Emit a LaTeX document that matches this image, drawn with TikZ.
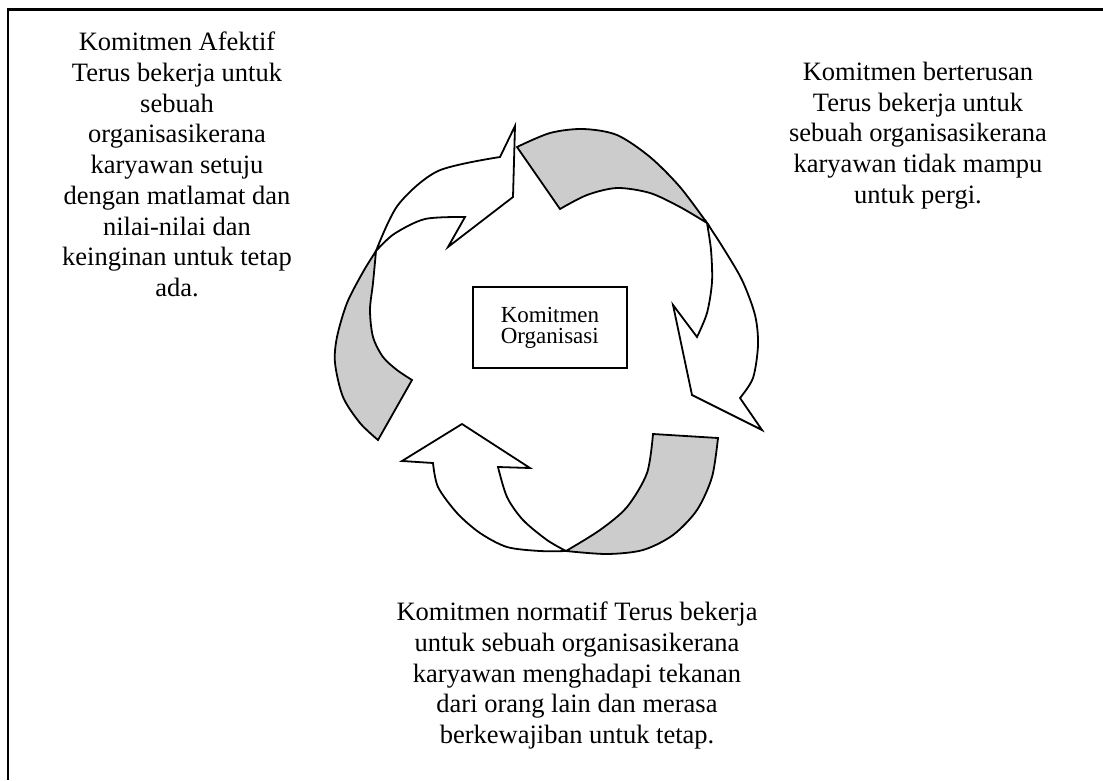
\documentclass[tikz,border=0pt]{standalone}
\usepackage{fontspec}
\setmainfont{Liberation Serif}
\definecolor{bandgray}{HTML}{CCCCCC}
\tikzset{
  band/.style={draw=black, line width=1.8pt, line join=miter, fill=bandgray},
  arrowbody/.style={draw=black, line width=1.8pt, line join=miter, fill=white},
  frameline/.style={draw=black, line width=2.5pt},
  desc/.style={align=center, inner sep=0pt, anchor=north, font=\fontsize{26.5}{30.7}\selectfont},
  centerbox/.style={draw=black, line width=1.5pt, minimum width=154pt, minimum height=81pt, align=left, inner sep=0pt, font=\fontsize{23}{21}\selectfont}
}
\begin{document}
\begin{tikzpicture}[x=1pt,y=-1pt]
\useasboundingbox (0,0) rectangle (1103,780);
\fill[white] (0,0) rectangle (1103,780);
% frame (cropped: only top and left edges visible)
\coordinate (ftl) at (8,9.5);
\coordinate (ftr) at (1103,9.5);
\coordinate (fbl) at (8,780);
\draw[frameline] (ftr) -- (ftl) -- (fbl);

% ---------- arrow 1 (left, pointing to top) ----------
\path[band] (376,251) -- plot[smooth] coordinates {(376,251) (363,272) (347,303) (337,337) (335,363) (343,397) (360,423) (378,440)}
  -- (412,380) -- plot[smooth] coordinates {(412,380) (397,370) (383,357) (373,337) (370,310) (373,283) (376,251)} -- cycle;
\path[arrowbody] (376,251) -- plot[smooth] coordinates {(376,251) (398,205) (438,171) (500,157)}
  -- (515,126) -- (513,197) -- (448,247) -- (465,217)
  -- plot[smooth] coordinates {(465,217) (425,219) (394,234) (376,251)} -- cycle;

% ---------- arrow 2 (right, pointing down) ----------
\path[band] (517,147) -- plot[smooth] coordinates {(517,147) (550,133) (583,129) (617,135) (650,157) (680,187) (707,223)}
  -- plot[smooth] coordinates {(707,223) (680,207) (650,193) (617,188) (587,195) (560,209)} -- cycle;
\path[arrowbody] (707,223) -- plot[smooth] coordinates {(707,223) (722,246) (742,280) (755,315) (758,345) (753,378) (740,398)}
  -- (762,430) -- (692,395) -- (673,305) -- (697,337)
  -- plot[smooth] coordinates {(697,337) (707,313) (712,282) (711,250) (707,223)} -- cycle;

% ---------- arrow 3 (bottom, pointing up-left) ----------
\path[band] (653,434) -- (718,438) -- plot[smooth] coordinates {(718,438) (712,477) (697,510) (673,535) (643,550) (607,554) (566,551)}
  -- plot[smooth] coordinates {(566,551) (600,530) (627,507) (647,473) (653,434)} -- cycle;
\path[arrowbody] (566,551) -- plot[smooth] coordinates {(566,551) (540,551) (507,547) (480,533) (457,513) (438,487) (433,463)}
  -- (402,461) -- (462,424) -- (530,468) -- (498,467)
  -- plot[smooth] coordinates {(498,467) (507,497) (523,520) (547,540) (566,551)} -- cycle;

% ---------- center box ----------
\node[centerbox] (center) at (550,327.5) {Komitmen\\Organisasi};

% ---------- descriptions ----------
\node[desc] (afektif) at (177,32) {Komitmen Afektif\\Terus bekerja untuk\\sebuah\\organisasikerana\\karyawan setuju\\dengan matlamat dan\\nilai-nilai dan\\keinginan untuk tetap\\ada.};
\node[desc] (berterusan) at (918,62) {Komitmen berterusan\\Terus bekerja untuk\\sebuah organisasikerana\\karyawan tidak mampu\\untuk pergi.};
\node[desc] (normatif) at (577,602) {Komitmen normatif Terus bekerja\\untuk sebuah organisasikerana\\karyawan menghadapi tekanan\\dari orang lain dan merasa\\berkewajiban untuk tetap.};
\end{tikzpicture}
\end{document}
